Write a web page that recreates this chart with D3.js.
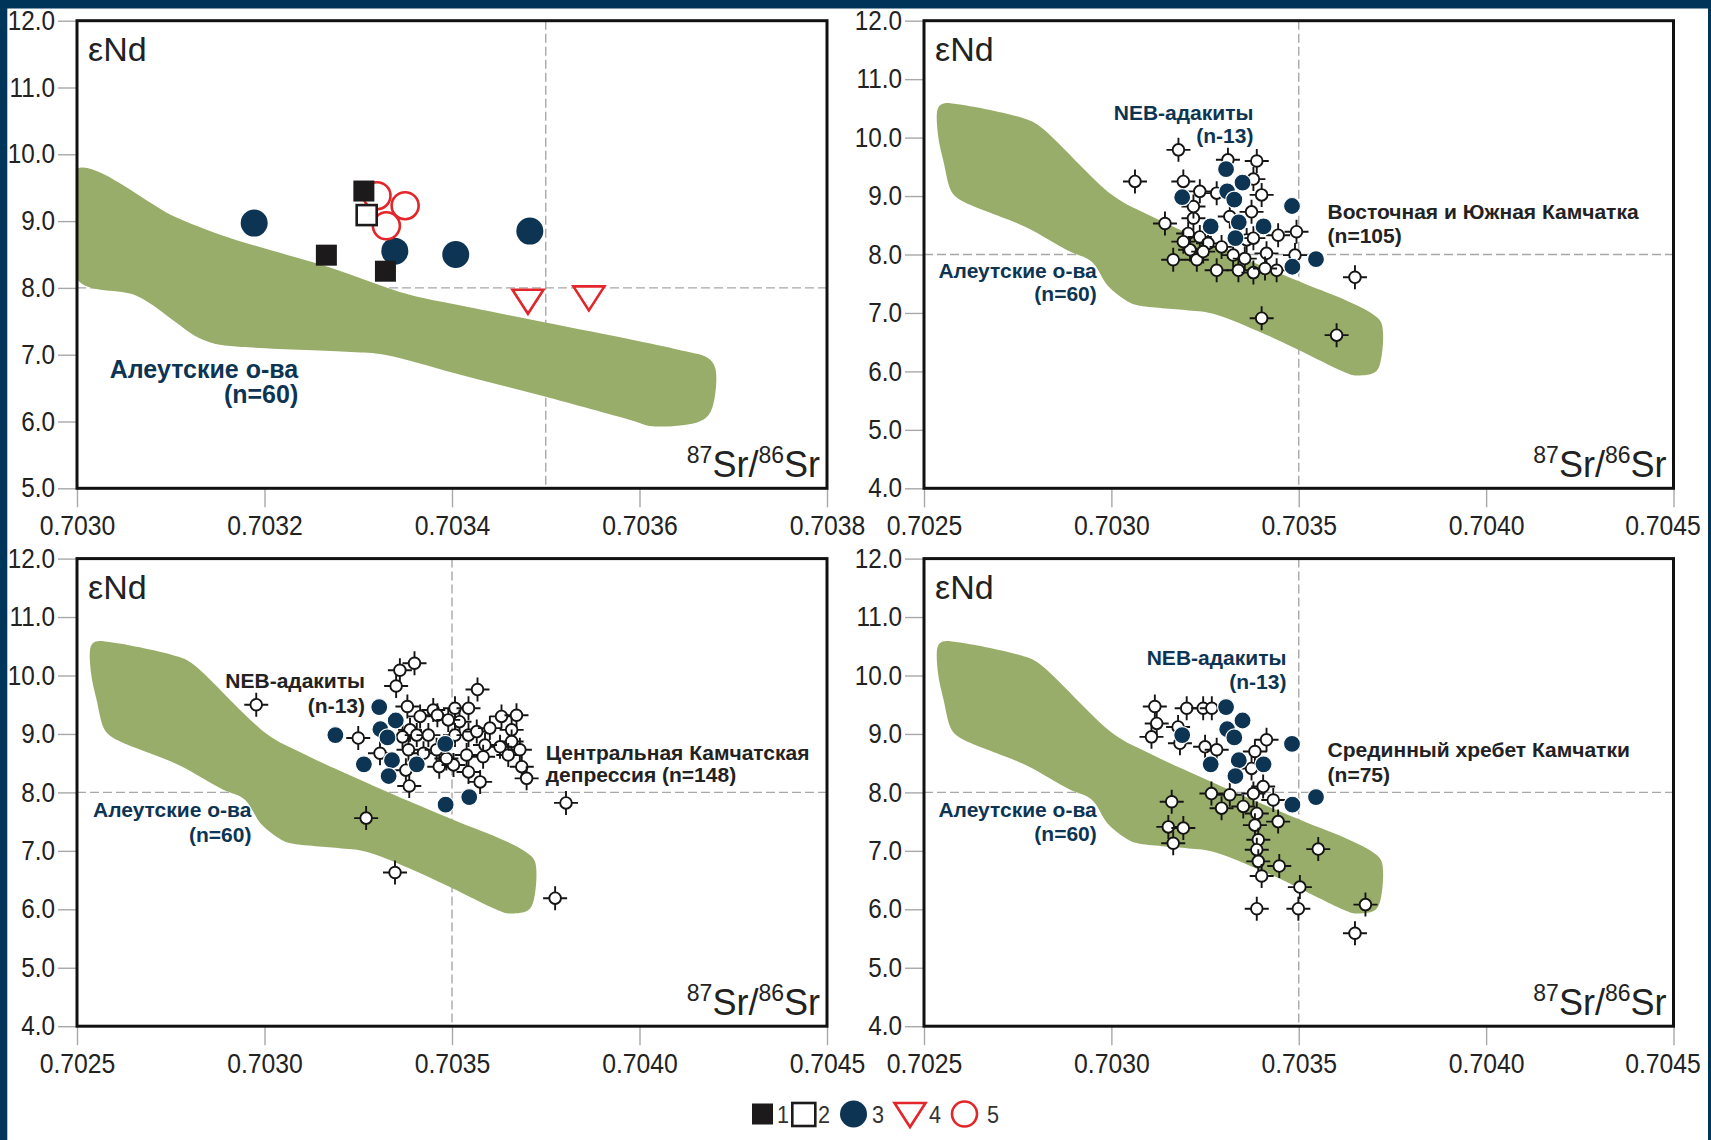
<!DOCTYPE html>
<html><head><meta charset="utf-8">
<script src="https://cdn.jsdelivr.net/npm/d3@7/dist/d3.min.js"></script>
<style>
body{margin:0;background:#fff}
svg{display:block}
text{font-family:"Liberation Sans",Arial,Helvetica,sans-serif}
</style>
</head><body>
<svg id="c" width="1711" height="1140"></svg>
<script>
// ---------------- DATA ----------------
const xTicksA = [0.7030, 0.7032, 0.7034, 0.7036, 0.7038];
const yTicksA = [5, 6, 7, 8, 9, 10, 11, 12];
const xTicksB = [0.7025, 0.7030, 0.7035, 0.7040, 0.7045];
const yTicksB = [4, 5, 6, 7, 8, 9, 10, 11, 12];

// Aleutian field outline, panel 1 scale
const aleutFieldA = [
  [0.70300,9.78],[0.703105,9.06],[0.703152,8.80],[0.703205,8.57],[0.703269,8.31],
  [0.703354,7.90],[0.703404,7.75],[0.703497,7.49],[0.703597,7.21],[0.703649,7.05],
  [0.703673,6.95],[0.703681,6.79],[0.703676,6.15],[0.703664,6.00],[0.703614,5.93],
  [0.703591,6.02],[0.703497,6.38],[0.703404,6.72],[0.703328,7.00],[0.703292,7.04],
  [0.703164,7.13],[0.703143,7.18],[0.703126,7.28],[0.703105,7.49],[0.703064,7.88],
  [0.70300,8.13]
];
// Aleutian field outline, panels 2-4
const aleutFieldB = [
  [0.702537,10.50],[0.702550,10.58],[0.702590,10.57],[0.702771,10.32],[0.702808,10.20],
  [0.703006,9.00],[0.703101,8.67],[0.703313,8.05],[0.703519,7.49],[0.703621,7.23],
  [0.703695,6.99],[0.703721,6.82],[0.703716,6.11],[0.703702,5.98],[0.703650,5.93],
  [0.703621,5.99],[0.703489,6.40],[0.703387,6.70],[0.703269,6.99],[0.703196,7.05],
  [0.703064,7.14],[0.703035,7.23],[0.702991,7.46],[0.702947,7.88],[0.702889,8.05],
  [0.702771,8.47],[0.702595,8.94],[0.702573,9.08],[0.702552,9.59],[0.702537,10.06]
];

// Panel 1 groups (legend 1..5)
const group1 = [[0.703306,9.45],[0.703266,8.49],[0.703329,8.25]];
const group2 = [[0.703309,9.09]];
const group3 = [[0.703189,8.97],[0.703339,8.55],[0.703404,8.50],[0.703483,8.85]];
const group4 = [[0.703481,7.80],[0.703546,7.85]];
const group5 = [[0.70332,9.38],[0.70335,9.23],[0.70333,8.93]];

// NEB adakites (panels 2-4)
const nebAdakites = [
  [0.703306,9.46],[0.703350,9.23],[0.703189,8.98],[0.703309,9.08],[0.703328,8.94],
  [0.703482,8.83],[0.703265,8.48],[0.703340,8.55],[0.703406,8.48],[0.703331,8.28],
  [0.703546,7.92],[0.703483,7.79]
];

// Eastern and Southern Kamchatka
const eastSouthKamchatka = [
  [0.703179,9.79],[0.703063,9.25],[0.703192,9.25],[0.703311,9.62],[0.703388,9.60],
  [0.703236,9.08],[0.703281,9.05],[0.703401,9.02],[0.703379,9.29],[0.703143,8.53],
  [0.703219,8.62],[0.703205,8.36],[0.703236,8.30],[0.703258,8.19],[0.703210,8.08],
  [0.703228,7.91],[0.703165,7.91],[0.703281,7.73],[0.703339,7.73],[0.703379,7.69],
  [0.703441,7.73],[0.703374,8.73],[0.703316,8.65],[0.703361,8.25],[0.703379,8.28],
  [0.703445,8.33],[0.703494,8.39],[0.703490,7.99],[0.703414,8.02],[0.703325,7.99],
  [0.703356,7.93],[0.703410,7.76],[0.703245,8.05],[0.703294,8.13],[0.703401,6.91],
  [0.703601,6.62],[0.703650,7.61],[0.703192,8.22],[0.703219,8.82]
];

// Central Kamchatka Depression
const centralDepression = [
  [0.703400,10.21],[0.703361,10.09],[0.703351,9.82],[0.703568,9.76],[0.703381,9.47],
  [0.703415,9.30],[0.703450,9.41],[0.703461,9.32],[0.703508,9.44],[0.703544,9.44],
  [0.703520,9.21],[0.703490,9.24],[0.703388,9.07],[0.703368,8.95],[0.703406,8.98],
  [0.703437,8.98],[0.703508,8.98],[0.703544,8.98],[0.703250,8.93],[0.703308,8.67],
  [0.703384,8.73],[0.703424,8.67],[0.703459,8.73],[0.703377,8.38],[0.703386,8.11],
  [0.703466,8.44],[0.703504,8.47],[0.703539,8.64],[0.703544,8.35],[0.703575,8.18],
  [0.703566,9.04],[0.703601,9.10],[0.703632,9.30],[0.703672,9.32],[0.703659,9.07],
  [0.703659,8.87],[0.703628,8.78],[0.703588,8.81],[0.703583,8.61],[0.703650,8.64],
  [0.703681,8.73],[0.703686,8.44],[0.703699,8.24],[0.703485,8.58],[0.703271,7.56],
  [0.703348,6.63],[0.703804,7.82],[0.703775,6.19],[0.702978,9.50]
];

// Sredinny Range of Kamchatka
const sredinnyRange = [
  [0.703116,9.47],[0.703201,9.44],[0.703245,9.44],[0.703268,9.44],[0.703121,9.18],
  [0.703107,8.95],[0.703178,9.12],[0.703183,8.84],[0.703250,8.78],[0.703281,8.73],
  [0.703414,8.90],[0.703383,8.70],[0.703374,8.41],[0.703405,8.10],[0.703267,7.98],
  [0.703316,7.96],[0.703294,7.73],[0.703352,7.76],[0.703379,7.98],[0.703432,7.87],
  [0.703388,7.64],[0.703383,7.44],[0.703445,7.50],[0.703392,7.19],[0.703388,7.02],
  [0.703392,6.82],[0.703401,6.57],[0.703448,6.74],[0.703161,7.84],[0.703152,7.41],
  [0.703192,7.39],[0.703165,7.13],[0.703552,7.03],[0.703503,6.38],[0.703388,6.01],
  [0.703499,6.01],[0.703678,6.08],[0.703650,5.59]
];

const legendLabels = ["1", "2", "3", "4", "5"];

// ---------------- STYLE / LAYOUT ----------------
const NAVY = "#0d3553", GREEN = "#99ad6a", RED = "#e3262a", DARK = "#222";
const svg = d3.select("#c");
svg.append("rect").attr("width",1711).attr("height",1140).attr("fill","#fff");

function condense(sel, f){
  sel.each(function(){
    const L = this.getComputedTextLength();
    d3.select(this).attr("textLength", L*f).attr("lengthAdjust","spacingAndGlyphs");
  });
}

const panels = [
  {x0:77, y0:20.7, w:750, h:467.6, xDom:[0.7030,0.7038], yDom:[5,12], xT:xTicksA, yT:yTicksA, field:aleutFieldA,
   notes:[{t:"Алеутские о-ва",x:0.703236,y:6.651,a:"end",c:NAVY,s:25},
          {t:"(n=60)",x:0.703236,y:6.277,a:"end",c:NAVY,s:25}]},
  {x0:924, y0:20.7, w:749.5, h:467.6, xDom:[0.7025,0.7045], yDom:[4,12], xT:xTicksB, yT:yTicksB, field:aleutFieldB,
   pts:eastSouthKamchatka,
   notes:[{t:"NEB-адакиты",x:0.703379,y:10.293,a:"end",c:NAVY,s:21},
          {t:"(n-13)",x:0.703379,y:9.908,a:"end",c:NAVY,s:21},
          {t:"Алеутские о-ва",x:0.702961,y:7.598,a:"end",c:NAVY,s:21},
          {t:"(n=60)",x:0.702961,y:7.204,a:"end",c:NAVY,s:21},
          {t:"Восточная и Южная Камчатка",x:0.703577,y:8.612,a:"start",c:DARK,s:21},
          {t:"(n=105)",x:0.703577,y:8.200,a:"start",c:DARK,s:21}]},
  {x0:77, y0:558.6, w:750, h:467.6, xDom:[0.7025,0.7045], yDom:[4,12], xT:xTicksB, yT:yTicksB, field:aleutFieldB,
   pts:centralDepression,
   notes:[{t:"NEB-адакиты",x:0.703268,y:9.788,a:"end",c:DARK,s:21},
          {t:"(n-13)",x:0.703268,y:9.360,a:"end",c:DARK,s:21},
          {t:"Алеутские о-ва",x:0.702965,y:7.571,a:"end",c:NAVY,s:21},
          {t:"(n=60)",x:0.702965,y:7.143,a:"end",c:NAVY,s:21},
          {t:"Центральная Камчатская",x:0.703750,y:8.560,a:"start",c:DARK,s:21},
          {t:"депрессия (n=148)",x:0.703750,y:8.170,a:"start",c:DARK,s:21}]},
  {x0:924, y0:558.6, w:749.5, h:467.6, xDom:[0.7025,0.7045], yDom:[4,12], xT:xTicksB, yT:yTicksB, field:aleutFieldB,
   pts:sredinnyRange,
   notes:[{t:"NEB-адакиты",x:0.703467,y:10.180,a:"end",c:NAVY,s:21},
          {t:"(n-13)",x:0.703467,y:9.769,a:"end",c:NAVY,s:21},
          {t:"Алеутские о-ва",x:0.702961,y:7.571,a:"end",c:NAVY,s:21},
          {t:"(n=60)",x:0.702961,y:7.162,a:"end",c:NAVY,s:21},
          {t:"Срединный хребет Камчатки",x:0.703577,y:8.597,a:"start",c:DARK,s:21},
          {t:"(n=75)",x:0.703577,y:8.181,a:"start",c:DARK,s:21}]}
];

function crossMarks(g, data, sx, sy){
  const m = g.append("g").selectAll("g").data(data).join("g")
    .attr("transform", d => `translate(${sx(d[0])},${sy(d[1])})`);
  m.append("path").attr("d","M-12,0H12M0,-12V12").attr("stroke","#151515").attr("stroke-width",1.9);
  m.append("circle").attr("r",5.8).attr("fill","#fff").attr("stroke","#151515").attr("stroke-width",1.9);
}

panels.forEach((p, i) => {
  const g = svg.append("g").attr("transform",`translate(${p.x0},${p.y0})`);
  const sx = d3.scaleLinear().domain(p.xDom).range([0, p.w]);
  const sy = d3.scaleLinear().domain(p.yDom).range([p.h, 0]);

  // axes
  const xa = g.append("g").attr("transform",`translate(0,${p.h})`)
    .call(d3.axisBottom(sx).tickValues(p.xT).tickSize(19).tickPadding(8).tickFormat(d3.format(".4f")));
  const ya = g.append("g")
    .call(d3.axisLeft(sy).tickValues(p.yT).tickSize(19).tickPadding(3).tickFormat(d3.format(".1f")));
  [xa, ya].forEach(a => {
    a.select(".domain").remove();
    a.selectAll("line").attr("stroke","#a8a8a8").attr("stroke-width",1.4);
    a.selectAll("text").attr("fill",DARK).style("font-family",'"Liberation Sans",Arial,sans-serif');
  });
  xa.selectAll("text").style("font-size","27.5px");
  ya.selectAll("text").style("font-size","27px");
  condense(xa.selectAll("text"), 0.9);
  condense(ya.selectAll("text"), 0.9);
  // keep the right-most label inside the page, as in the original
  if (p.x0 > 500) xa.selectAll(".tick text").filter(d => d === 0.7045).attr("dx", -11);

  const clipId = "clip" + i;
  g.append("clipPath").attr("id",clipId).append("rect").attr("width",p.w).attr("height",p.h);
  const body = g.append("g").attr("clip-path",`url(#${clipId})`);

  // reference dashed lines
  body.append("line").attr("x1",sx(0.7035)).attr("x2",sx(0.7035)).attr("y1",0).attr("y2",p.h)
    .attr("stroke","#a8a8a8").attr("stroke-width",1.4).attr("stroke-dasharray","9,4");
  body.append("line").attr("x1",0).attr("x2",p.w).attr("y1",sy(8)).attr("y2",sy(8))
    .attr("stroke","#a8a8a8").attr("stroke-width",1.4).attr("stroke-dasharray","9,4");

  // Aleutian field
  body.append("path").datum(p.field)
    .attr("d", d3.line().x(d => sx(d[0])).y(d => sy(d[1])).curve(d3.curveCatmullRomClosed.alpha(0.5)))
    .attr("fill",GREEN);

  if (i === 0) {
    body.selectAll(".g3").data(group3).join("circle")
      .attr("cx",d=>sx(d[0])).attr("cy",d=>sy(d[1])).attr("r",13.5).attr("fill",NAVY);
    body.selectAll(".g5").data(group5).join("circle")
      .attr("cx",d=>sx(d[0])).attr("cy",d=>sy(d[1])).attr("r",13.5)
      .attr("fill","#fff").attr("stroke",RED).attr("stroke-width",2.6);
    body.selectAll(".g1").data(group1).join("rect")
      .attr("x",d=>sx(d[0])-10.5).attr("y",d=>sy(d[1])-10.5).attr("width",21).attr("height",21)
      .attr("fill","#1c1a1a");
    body.selectAll(".g2").data(group2).join("rect")
      .attr("x",d=>sx(d[0])-10).attr("y",d=>sy(d[1])-10).attr("width",20).attr("height",20)
      .attr("fill","#fff").attr("stroke","#1c1a1a").attr("stroke-width",2.6);
    body.selectAll(".g4").data(group4).join("path")
      .attr("transform",d=>`translate(${sx(d[0])},${sy(d[1])})`)
      .attr("d","M-15.5,-11.5L15.5,-11.5L0,12.5Z")
      .attr("fill","#fff").attr("stroke",RED).attr("stroke-width",2.6).attr("stroke-linejoin","miter");
  } else {
    crossMarks(body, p.pts, sx, sy);
    body.append("g").selectAll("circle").data(nebAdakites).join("circle")
      .attr("cx",d=>sx(d[0])).attr("cy",d=>sy(d[1])).attr("r",8.5)
      .attr("fill",NAVY).attr("stroke","#fff").attr("stroke-width",1.2);
  }

  // annotations
  p.notes.forEach(n => {
    g.append("text").attr("x",sx(n.x)).attr("y",sy(n.y)).attr("text-anchor",n.a)
      .attr("fill",n.c).style("font-size",n.s+"px").style("font-weight","bold").text(n.t);
  });

  // axis titles inside frame
  g.append("text").attr("x",11).attr("y",40).style("font-size","34px").attr("fill",DARK).text("εNd");
  const t = g.append("text").attr("x",p.w-7).attr("y",p.h-11).attr("text-anchor","end")
    .attr("fill",DARK).style("font-size","36px");
  t.append("tspan").text("87").style("font-size","23px").attr("dy",-14);
  t.append("tspan").text("Sr/").attr("dy",14);
  t.append("tspan").text("86").style("font-size","23px").attr("dy",-14);
  t.append("tspan").text("Sr").attr("dy",14);

  // frame
  g.append("rect").attr("width",p.w).attr("height",p.h).attr("fill","none")
    .attr("stroke","#111").attr("stroke-width",3);
});

// legend
const lg = svg.append("g");
const lgY = 1114;
const lx = [752, 791, 840, 893, 951];
lg.append("rect").attr("x",lx[0]).attr("y",lgY-10.5).attr("width",21).attr("height",21).attr("fill","#1c1a1a");
lg.append("rect").attr("x",lx[1]+1.3).attr("y",lgY-11).attr("width",23).attr("height",23)
  .attr("fill","#fff").attr("stroke","#1c1a1a").attr("stroke-width",2.6);
lg.append("circle").attr("cx",lx[2]+13.5).attr("cy",lgY).attr("r",13.5).attr("fill",NAVY);
lg.append("path").attr("d",`M${lx[3]+1.5},${lgY-11}L${lx[3]+32.5},${lgY-11}L${lx[3]+17},${lgY+13}Z`)
  .attr("fill","#fff").attr("stroke",RED).attr("stroke-width",2.6);
lg.append("circle").attr("cx",lx[4]+13.5).attr("cy",lgY).attr("r",12.5)
  .attr("fill","#fff").attr("stroke",RED).attr("stroke-width",2.6);
const labX = [777, 818, 872, 929, 987];
const lt = lg.selectAll("text.l").data(legendLabels).join("text")
  .attr("x",(d,i)=>labX[i]).attr("y",lgY+9).attr("fill","#333").style("font-size","24px").text(d=>d);
condense(lt, 0.9);

// page frame strips
svg.append("rect").attr("x",0).attr("y",0).attr("width",1711).attr("height",8.5).attr("fill","#00355a");
svg.append("rect").attr("x",0).attr("y",0).attr("width",7.3).attr("height",1140).attr("fill","#00355a");
svg.append("rect").attr("x",1708).attr("y",0).attr("width",3).attr("height",1140).attr("fill","#00355a");
</script>
</body></html>
